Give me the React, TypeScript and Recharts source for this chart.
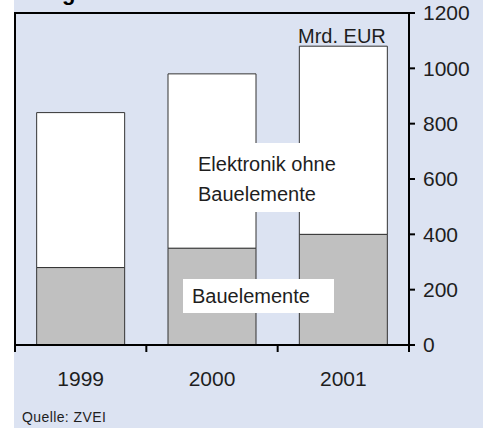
import { BarChart, Bar, XAxis, YAxis } from 'recharts';

const years = ['1999', '2000', '2001'];
const bauelemente = [280, 350, 400];
const elektronikOhne = [560, 630, 680];
const yTicks = [0, 200, 400, 600, 800, 1000, 1200];
const boundaryTicks = [0, 1, 2, 3];

const data = years.map((y, i) => ({
  year: y,
  bauelemente: bauelemente[i],
  elektronikOhne: elektronikOhne[i],
}));

const FONT = '"Liberation Sans", Arial, sans-serif';
const BG = '#dce3f2';
const TEXT = '#1e1e1e';

export default function App() {
  return (
    <div
      style={{
        position: 'absolute',
        left: 0,
        top: 0,
        width: 483,
        height: 428,
        background: '#ffffff',
        fontFamily: FONT,
        overflow: 'hidden',
      }}
    >
      <div style={{ position: 'absolute', left: 14, top: 0, width: 469, height: 428, background: BG }} />

      <div style={{ position: 'absolute', left: 0, top: 0 }}>
        <BarChart
          width={483}
          height={428}
          data={data}
          margin={{ top: 13, right: 0, bottom: 42, left: 14 }}
          barCategoryGap="16.5%"
        >
          {/* bottom axis line with ticks between the years */}
          <XAxis
            xAxisId="a"
            type="number"
            dataKey="idx"
            domain={[0, 3]}
            ticks={boundaryTicks}
            height={1}
            tickSize={7}
            tickFormatter={() => ''}
            axisLine={{ stroke: '#000', strokeWidth: 2 }}
            tickLine={{ stroke: '#000', strokeWidth: 2 }}
            allowDataOverflow
          />
          <XAxis
            xAxisId="b"
            dataKey="year"
            height={40}
            tickSize={0}
            tickMargin={25}
            axisLine={false}
            tickLine={false}
            tick={{ fill: TEXT, fontSize: 21, fontFamily: FONT }}
          />
          <YAxis
            yAxisId="l"
            orientation="left"
            width={1}
            domain={[0, 1200]}
            tick={false}
            tickLine={false}
            axisLine={{ stroke: '#000', strokeWidth: 2 }}
          />
          <YAxis
            yAxisId="r"
            orientation="right"
            width={74}
            domain={[0, 1200]}
            ticks={yTicks}
            interval={0}
            tickSize={6}
            tickMargin={8}
            axisLine={{ stroke: '#000', strokeWidth: 2 }}
            tickLine={{ stroke: '#000', strokeWidth: 2 }}
            tick={{ fill: TEXT, fontSize: 21, fontFamily: FONT, textAnchor: 'start' }}
          />
          <Bar
            xAxisId="b"
            yAxisId="r"
            dataKey="bauelemente"
            stackId="a"
            fill="#c0c0c0"
            stroke="#333"
            strokeWidth={1}
            isAnimationActive={false}
          />
          <Bar
            xAxisId="b"
            yAxisId="r"
            dataKey="elektronikOhne"
            stackId="a"
            fill="#ffffff"
            stroke="#333"
            strokeWidth={1}
            isAnimationActive={false}
          />
        </BarChart>
      </div>

      {/* top edge of the plot frame */}
      <div style={{ position: 'absolute', left: 14, top: 12, width: 396, height: 2, background: '#000' }} />

      {/* cut-off title at the top edge */}
      <div
        style={{
          position: 'absolute',
          left: 62,
          top: -19,
          fontSize: 22,
          fontWeight: 'bold',
          color: '#000',
          lineHeight: '24px',
        }}
      >
        g
      </div>

      <div style={{ position: 'absolute', left: 298, top: 24, fontSize: 20, color: TEXT, lineHeight: '24px' }}>
        Mrd. EUR
      </div>

      <div
        style={{
          position: 'absolute',
          left: 185,
          top: 143,
          width: 165,
          height: 69,
          background: '#fff',
          boxSizing: 'border-box',
          paddingLeft: 13,
          paddingTop: 6,
          fontSize: 20,
          lineHeight: '30px',
          color: TEXT,
        }}
      >
        Elektronik ohne
        <br />
        Bauelemente
      </div>

      <div
        style={{
          position: 'absolute',
          left: 183,
          top: 279,
          width: 151,
          height: 34,
          background: '#fff',
          boxSizing: 'border-box',
          paddingLeft: 9,
          fontSize: 20,
          lineHeight: '34px',
          color: TEXT,
        }}
      >
        Bauelemente
      </div>

      <div
        style={{
          position: 'absolute',
          left: 22,
          top: 409,
          fontSize: 14,
          letterSpacing: 0.4,
          color: TEXT,
          lineHeight: '16px',
        }}
      >
        Quelle: ZVEI
      </div>
    </div>
  );
}
